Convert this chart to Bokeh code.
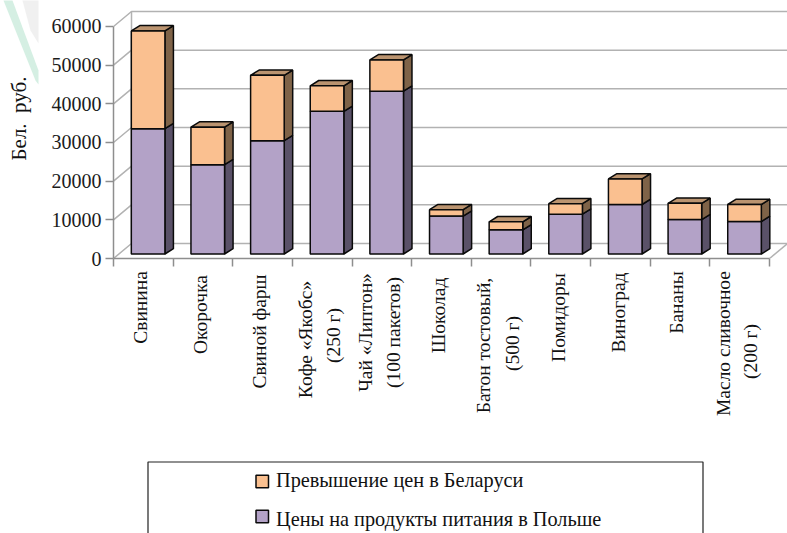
from bokeh.plotting import figure
from bokeh.embed import file_html
from bokeh.resources import INLINE
from bokeh.models import FixedTicker
from bokeh.core.properties import value
import math

# ---- data ----
categories = ["Свинина", "Окорочка", "Свиной фарш", "Кофе «Якобс» (250 г)", "Чай «Липтон» (100 пакетов)",
              "Шоколад", "Батон тостовый, (500 г)", "Помидоры", "Виноград", "Бананы", "Масло сливочное (200 г)"]
poland = [32400, 23100, 29300, 36900, 42100, 9800, 6250, 10300, 12800, 8900, 8400]
excess = [25300, 9700, 16900, 6600, 8100, 1650, 2080, 2700, 6600, 4200, 4400]
y_ticks = [0, 10000, 20000, 30000, 40000, 50000, 60000]
series_names = ["Превышение цен в Беларуси", "Цены на продукты питания в Польше"]
y_title = "Бел.\u00a0\u00a0руб."

# rotated category text: (line, x px in window, y centre px in window)
label_lines = [
    ("Свинина", 139.5, 307), ("Окорочка", 200, 314), ("Свиной фарш", 259, 331),
    ("Кофе «Якобс»", 305, 339), ("(250 г)", 333, 335),
    ("Чай «Липтон»", 365, 332), ("(100 пакетов)", 393, 332),
    ("Шоколад", 438, 315), ("Батон тостовый,", 483, 345), ("(500 г)", 512, 343),
    ("Помидоры", 558, 317), ("Виноград", 618, 312), ("Бананы", 676, 302),
    ("Масло сливочное", 723, 343), ("(200 г)", 750, 351),
]

# ---- layout / style ----
W, H = 787, 533
OFF = 0
AX_L, AX_B = 113, 258          # window px of the front axes' corner
PX_CAT = 59.64                 # px per category
PX_K = 3.8667                  # px per 1000 units
FONT = "Liberation Serif"
ORANGE, PURPLE = "#FAC090", "#B3A2C7"
ORANGE_SIDE, ORANGE_TOP = "#7F6348", "#BB9470"
PURPLE_SIDE = "#5A5168"
GRID, AXIS, EDGE = "#B2B2B2", "#8E8E8E", "#0A0A0A"

def wx(px):                     # window px -> x data
    return -0.5 + (px - AX_L) / PX_CAT

def wy(py):                     # window py -> y data
    return (AX_B - py) / PX_K * 1000

dx = 1 / PX_CAT                 # one pixel in data units
dy = 1000 / PX_K

x_end = wx(OFF + W)
y_end = wy(OFF)

p = figure(width=W, height=H, output_backend="svg", toolbar_location=None,
           x_range=(-0.5, x_end), y_range=(0, y_end),
           min_border_left=AX_L - OFF, min_border_right=0, min_border_top=0,
           min_border_bottom=OFF + H - AX_B, outline_line_color=None,
           background_fill_color="white", border_fill_color="white")
p.grid.visible = False

# axes
yax = p.yaxis[0]
yax.ticker = FixedTicker(ticks=y_ticks)
yax.bounds = (0, 60000)
yax.formatter.use_scientific = False
xax = p.xaxis[0]
xax.ticker = FixedTicker(ticks=[i - 0.5 for i in range(len(categories) + 1)])
xax.bounds = (-0.5, len(categories) - 0.5)
xax.major_label_text_font_size = "0px"
xax.major_label_text_color = None
for ax in (xax, yax):
    ax.axis_line_color = AXIS
    ax.axis_line_width = 1.5
    ax.major_tick_line_color = AXIS
    ax.major_tick_line_width = 1.5
    ax.major_tick_out = 8
    ax.major_tick_in = 0
    ax.minor_tick_line_color = None
yax.major_label_text_font = FONT
yax.major_label_text_font_size = "20px"
yax.major_label_text_color = "#1a1a1a"
yax.major_label_standoff = 4

# back walls
BX, BY = 18 * dx, 15 * dy
right = len(categories) - 0.5
xs, ys = [], []
for t in y_ticks:
    xs.append([-0.5, -0.5 + BX, x_end])
    ys.append([t, t + BY, t + BY])
xs.append([-0.5 + BX, -0.5 + BX])
ys.append([BY, 60000 + BY])
xs.append([right, right + BX])
ys.append([0, BY])
p.multi_line(xs, ys, line_color=GRID, line_width=1.5)

# bars
DX, DY = 4.8 * dx, 4.5 * dy     # bars stand a little behind the front edge
HALF = 16.8 * dx
SX, SY = 8.5 * dx, 5.3 * dy     # bar depth
lefts = [i - HALF + DX for i in range(len(categories))]
rights = [i + HALF + DX for i in range(len(categories))]
tops_p = [DY + v for v in poland]
tops_t = [DY + a + b for a, b in zip(poland, excess)]

def side(x, y0, y1):
    return [x, x + SX, x + SX, x], [y0, y0 + SY, y1 + SY, y1]

sp = [side(r, DY, t) for r, t in zip(rights, tops_p)]
so = [side(r, a, b) for r, a, b in zip(rights, tops_p, tops_t)]
cap = [([l, l + SX, r + SX, r], [t, t + SY, t + SY, t]) for l, r, t in zip(lefts, rights, tops_t)]
for group, col in ((sp, PURPLE_SIDE), (so, ORANGE_SIDE), (cap, ORANGE_TOP)):
    p.patches([g[0] for g in group], [g[1] for g in group], fill_color=col,
              line_color=EDGE, line_width=1.5)
p.quad(left=lefts, right=rights, bottom=[DY] * len(poland), top=tops_p,
       fill_color=PURPLE, line_color=EDGE, line_width=1.5)
p.quad(left=lefts, right=rights, bottom=tops_p, top=tops_t,
       fill_color=ORANGE, line_color=EDGE, line_width=1.5)

# watermark remnant in the top-left corner
p.patch([wx(22), wx(38), wx(38), wx(30)], [wy(0), wy(0), wy(43), wy(30)],
        fill_color="#E4E4E4", fill_alpha=0.55, line_color=None, level="overlay")
p.patch([wx(3), wx(12), wx(38), wx(38), wx(35)], [wy(0), wy(0), wy(70), wy(84), wy(80)],
        fill_color="#D5EFE3", line_color=None, level="overlay")

# category and axis texts
p.text(x=[wx(l[1]) for l in label_lines], y=[wy(l[2]) for l in label_lines],
       text=[l[0] for l in label_lines], angle=math.pi / 2, text_align="center",
       text_baseline="middle", text_font=value(FONT), text_font_size="19.5px",
       text_color="#111111", level="overlay")
p.text(x=[wx(18)], y=[wy(118)], text=[y_title], angle=math.pi / 2, text_align="center",
       text_baseline="middle", text_font=value(FONT), text_font_size="21px",
       text_color="#111111", level="overlay")

# legend, drawn outside the frame
p.multi_line([[wx(147.5), wx(147.5), wx(702.5), wx(702.5)]], [[wy(540), wy(461.5), wy(461.5), wy(540)]],
             line_color="#222222", line_width=1.2, level="overlay")
SW = 12.5
leg_x = [wx(255.5), wx(255.5)]
leg_y = [wy(481), wy(516)]
p.quad(left=leg_x, right=[x + SW * dx for x in leg_x],
       bottom=[y - SW / 2 * dy for y in leg_y], top=[y + SW / 2 * dy for y in leg_y],
       fill_color=[ORANGE, PURPLE], line_color=EDGE, line_width=1.5, level="overlay")
p.text(x=[wx(275.5), wx(275.5)], y=[wy(479), wy(518)], text=series_names, text_align="left",
       text_baseline="middle", text_font=value(FONT), text_font_size="20.3px",
       text_color="#111111", level="overlay")

open("out.html", "w").write(file_html(p, INLINE))
